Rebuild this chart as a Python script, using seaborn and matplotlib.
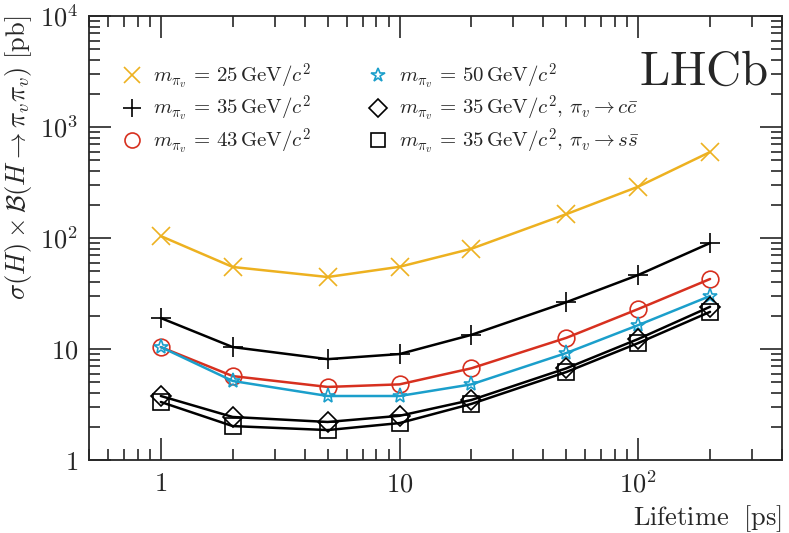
import numpy as np
import pandas as pd
import matplotlib
matplotlib.use('Agg')
import matplotlib.pyplot as plt
from matplotlib.lines import Line2D
import seaborn as sns

# lifetimes [ps]
lifetime = [1, 2, 5, 10, 20, 50, 100, 200]

# sigma x BR [pb]
m25 = [104, 54.8, 44.5, 55, 80, 164, 290, 595]
m35 = [19, 10.4, 8.1, 9.0, 13.4, 26.4, 46.4, 90]
m43 = [10.4, 5.7, 4.55, 4.8, 6.7, 12.6, 22.9, 42.7]
m50 = [10.4, 5.15, 3.77, 3.77, 4.8, 9.2, 16.4, 30]
m35_cc = [3.77, 2.44, 2.2, 2.5, 3.47, 6.7, 12.3, 24]
m35_ss = [3.33, 2.02, 1.86, 2.15, 3.2, 6.2, 11.3, 21.6]

labels = [
    r'$m_{\pi_v}\,=\,25\,\mathrm{GeV}/c^2$',
    r'$m_{\pi_v}\,=\,35\,\mathrm{GeV}/c^2$',
    r'$m_{\pi_v}\,=\,43\,\mathrm{GeV}/c^2$',
    r'$m_{\pi_v}\,=\,50\,\mathrm{GeV}/c^2$',
    r'$m_{\pi_v}\,=\,35\,\mathrm{GeV}/c^2,\,\pi_v\to c\bar{c}$',
    r'$m_{\pi_v}\,=\,35\,\mathrm{GeV}/c^2,\,\pi_v\to s\bar{s}$',
]
series = [m25, m35, m43, m50, m35_cc, m35_ss]
colors = ['#EDB120', 'black', '#D7301F', '#1B9FCB', 'black', 'black']
markers = ['x', '+', 'o', '*', 'D', 's']
msizes = [13, 14, 12, 11, 10, 11]

sns.set_style('ticks')
plt.rcParams['mathtext.fontset'] = 'cm'
plt.rcParams['font.family'] = ['DejaVu Serif']
plt.rcParams['xtick.direction'] = 'in'
plt.rcParams['ytick.direction'] = 'in'

fig = plt.figure(figsize=(7.89, 5.33), dpi=100)
ax = fig.add_axes([0.1128, 0.137, 0.8782, 0.833])

handles = []
for vals, lab, c, mk, ms in zip(series, labels, colors, markers, msizes):
    df = pd.DataFrame({'lifetime': lifetime, 'xs': vals})
    sns.lineplot(data=df, x='lifetime', y='xs', ax=ax, color=c, lw=1.8,
                 marker=mk, markersize=ms, markerfacecolor='none',
                 markeredgecolor=c, markeredgewidth=1.2, legend=False)
    handles.append(Line2D([], [], ls='none', marker=mk, markersize=ms * 0.9,
                          markerfacecolor='none', markeredgecolor=c,
                          markeredgewidth=1.2, label=lab))

ax.set_xscale('log')
ax.set_yscale('log')
ax.set_xlim(0.5, 400)
ax.set_ylim(1, 1e4)

ax.set_xticks([1, 10, 100], labels=['$1$', '$10$', '$10^2$'])
ax.set_yticks([1, 10, 100, 1000, 10000],
              labels=['$1$', '$10$', '$10^2$', '$10^3$', '$10^4$'])
ax.tick_params(which='major', length=16, width=1.2, labelsize=19,
               top=True, right=True, pad=8)
ax.tick_params(which='minor', length=8, width=1.2, top=True, right=True)
ax.tick_params(axis='x', which='minor', labelbottom=False)
ax.tick_params(axis='y', which='minor', labelleft=False)
for s in ax.spines.values():
    s.set_linewidth(1.3)

ax.set_xlabel(r'$\mathrm{Lifetime\ \ [ps]}$', fontsize=19, loc='right')
ax.set_ylabel(r'$\sigma(H)\times\mathcal{B}(H\to\pi_v\pi_v)\ [\mathrm{pb}]$',
              fontsize=19, loc='top')

ax.text(0.98, 0.875, r'$\mathrm{LHCb}$', transform=ax.transAxes,
        fontsize=35, ha='right', va='center')

ax.legend(handles=handles, ncol=2, loc='upper left', frameon=False,
          fontsize=15, bbox_to_anchor=(0.012, 0.94), handletextpad=0.25,
          columnspacing=2.5, labelspacing=0.12, handlelength=1.5)

fig.savefig('out.png', dpi=100)
